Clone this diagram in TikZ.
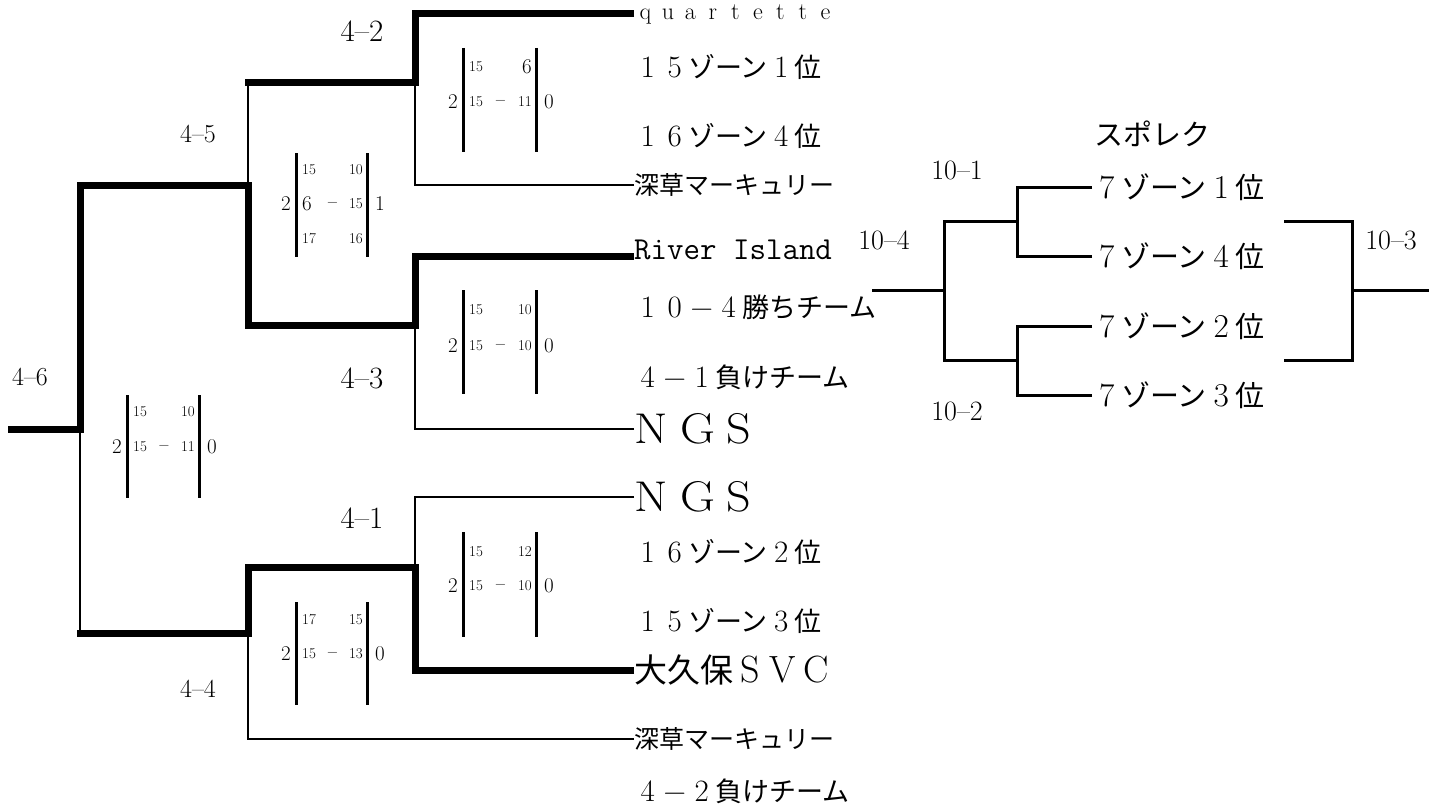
\documentclass[tikz,border=0pt]{standalone}
\usepackage{fontspec}
\newfontfamily\jp{Noto Sans CJK JP}
\newcommand\fw[1]{\makebox[1em]{\rmfamily\scalebox{1.15}{#1}}}
\newcommand\qc[1]{\makebox[22.5pt]{#1}}
\newcommand\nc[1]{\makebox[46pt][l]{\scalebox{1.12}[1]{#1}}}
\tikzset{
  thickln/.style={line width=7pt},
  thinln/.style={line width=2.6pt},
  rthin/.style={line width=3pt},
  barln/.style={line width=3pt},
  big/.style={inner sep=0pt, font=\fontsize{21}{21}\selectfont},
  small/.style={inner sep=0pt, font=\fontsize{15}{15}\selectfont},
  lblA/.style={inner sep=0pt, font=\fontsize{31}{31}\selectfont},
  lblB/.style={inner sep=0pt, font=\fontsize{26}{26}\selectfont},
  lblC/.style={inner sep=0pt, font=\fontsize{28}{28}\selectfont},
  team/.style={anchor=west, inner sep=0pt},
  jpA/.style={team, font=\fontsize{27}{27}\selectfont\jp},
  jpB/.style={team, font=\fontsize{25}{25}\selectfont\jp},
  jpC/.style={team, font=\fontsize{33}{33}\selectfont\jp},
  jpD/.style={team, font=\fontsize{29}{29}\selectfont\jp},
  bigS/.style={team, font=\fontsize{43}{43}\selectfont},
}
% name, xl, xr, ytop, ybot, ymid, left score, right score
\newcommand\scoreframe[8]{%
  \draw[barln] (#2,#4) coordinate (#1a) -- (#2,#5) coordinate (#1b);
  \draw[barln] (#3,#4) coordinate (#1c) -- (#3,#5) coordinate (#1d);
  \node[big,anchor=east] (#1L) at (#2-5,#6) {#7};
  \node[big,anchor=west] (#1R) at (#3+8,#6) {#8};
}
% name, xl, xr, y, left, right
\newcommand\scorerow[6]{%
  \node[small,anchor=west] (#1l) at (#2+6,#4) {#5};
  \node[small,anchor=east] (#1r) at (#3-4,#4) {#6};
}
\newcommand\scoremid[6]{%
  \scorerow{#1}{#2}{#3}{#4}{#5}{#6}%
  \node[small] (#1m) at ({(#2+#3)/2+1},#4) {−};
}
\begin{document}
\begin{tikzpicture}[x=1pt,y=-1pt]
\useasboundingbox (0,0) rectangle (1436,808);

% ---------- team names ----------
\node[team, font=\fontsize{24}{24}\selectfont] (t1) at (634,14) {\qc{q}\qc{u}\qc{a}\qc{r}\qc{t}\qc{e}\qc{t}\qc{t}\qc{e}};
\node[jpA] (t2) at (634,67) {\fw{1}\fw{5}ゾーン\fw{1}位};
\node[jpA] (t3) at (634,136) {\fw{1}\fw{6}ゾーン\fw{4}位};
\node[jpB] (t4) at (634,185) {深草マーキュリー};
\node[team, font=\fontsize{32}{32}\selectfont\ttfamily] (t5) at (634,250) {River Island};
\coordinate (p5) at (634,256);
\node[jpA] (t6) at (634,307) {\fw{1}\fw{0}\fw{−}\fw{4}勝ちチーム};
\node[jpA] (t7) at (634,377) {\fw{4}\fw{−}\fw{1}負けチーム};
\node[bigS] (t8) at (634,429) {\nc{N}\nc{G}\nc{S}};
\node[bigS] (t9) at (634,497) {\nc{N}\nc{G}\nc{S}};
\node[jpA] (t10) at (634,552) {\fw{1}\fw{6}ゾーン\fw{2}位};
\node[jpA] (t11) at (634,621) {\fw{1}\fw{5}ゾーン\fw{3}位};
\node[jpC] (t12) at (634,670) {大久保\fw{S}\fw{V}\fw{C}};
\node[jpB] (t13) at (634,739) {深草マーキュリー};
\node[jpA] (t14) at (634,791) {\fw{4}\fw{−}\fw{2}負けチーム};

% ---------- junctions ----------
\coordinate (root) at (8,429);
\coordinate (j46) at (80,429);
\coordinate (j46b) at (80,633);
\coordinate (j45) at (248,185);
\coordinate (j45t) at (248,83);
\coordinate (j44) at (248,633);
\coordinate (j42) at (415,83);
\coordinate (j43) at (415,325);
\coordinate (j41) at (415,567);

% thin (losing) lines
\draw[thinln] (t4.west) -| (j42);
\draw[thinln] (j45t) -- (j45);
\draw[thinln] (t8.west) -| (j43);
\draw[thinln] (j46) -- (j46b);
\draw[thinln] (t9.west) -| (j41);
\draw[thinln] (t13.west) -| (j44);
% thick (winning) lines
\draw[thickln] (p5) -| (j43) -| (j45) -| (j46) -- (root);
\draw[thickln] (t1.west) -| (j42) -- ([xshift=-3.5pt]j45t);
\draw[thickln] (t12.west) -| (j41) -| (j44) -- ([xshift=-3.5pt]j46b);

% ---------- match labels ----------
\node[lblB] (l46) at (30,377) {4–6};
\node[lblB] (l45) at (198,134) {4–5};
\node[lblB] (l44) at (198,689) {4–4};
\node[lblA] (l42) at (362,31) {4–2};
\node[lblA] (l43) at (362,378) {4–3};
\node[lblA] (l41) at (362,518) {4–1};

% ---------- score boxes ----------
% 4-2
\scoreframe{b42}{463}{536}{48}{152}{102}{2}{0}
\scorerow{b42t}{463}{536}{67}{15}{\fontsize{21}{21}\selectfont 6}
\scoremid{b42m}{463}{536}{102}{15}{11}
% 4-5
\scoreframe{b45}{296}{367}{153}{257}{204}{2}{1}
\scorerow{b45t}{296}{367}{170}{15}{10}
\scoremid{b45m}{296}{367}{204}{\fontsize{21}{21}\selectfont 6}{15}
\scorerow{b45b}{296}{367}{239}{17}{16}
% 4-3
\scoreframe{b43}{463}{536}{290}{394}{346}{2}{0}
\scorerow{b43t}{463}{536}{310}{15}{10}
\scoremid{b43m}{463}{536}{346}{15}{10}
% 4-6
\scoreframe{b46}{127}{199}{395}{498}{447}{2}{0}
\scorerow{b46t}{127}{199}{412}{15}{10}
\scoremid{b46m}{127}{199}{447}{15}{11}
% 4-1
\scoreframe{b41}{463}{536}{532}{637}{586}{2}{0}
\scorerow{b41t}{463}{536}{552}{15}{12}
\scoremid{b41m}{463}{536}{586}{15}{10}
% 4-4
\scoreframe{b44}{296}{367}{602}{705}{654}{2}{0}
\scorerow{b44t}{296}{367}{620}{17}{15}
\scoremid{b44m}{296}{367}{654}{15}{13}

% ---------- right bracket ----------
\node[jpD] (sp) at (1094,134) {スポレク};
\node[jpD] (r1) at (1092,187) {\fw{7}ゾーン\fw{1}位};
\node[jpD] (r4) at (1092,256) {\fw{7}ゾーン\fw{4}位};
\node[jpD] (r2) at (1092,326) {\fw{7}ゾーン\fw{2}位};
\node[jpD] (r3) at (1092,395) {\fw{7}ゾーン\fw{3}位};

\coordinate (k1) at (1017,221);
\coordinate (k2) at (1017,360);
\coordinate (k4) at (944,290);
\coordinate (k4L) at (872,290);
\coordinate (m1) at (1284,221);
\coordinate (m2) at (1284,360);
\coordinate (k3) at (1352,290);
\coordinate (k3R) at (1429,290);

\draw[rthin] (r1.west) -| (k1);
\draw[rthin] (r4.west) -| (k1);
\draw[rthin] (r2.west) -| (k2);
\draw[rthin] (r3.west) -| (k2);
\draw[rthin] (k1) -| (k4);
\draw[rthin] (k2) -| (k4);
\draw[rthin] (k4) -- (k4L);
\draw[rthin] (m1) -| (k3);
\draw[rthin] (m2) -| (k3);
\draw[rthin] (k3) -- (k3R);

\node[lblC] (l101) at (957,170) {10–1};
\node[lblC] (l104) at (884,240) {10–4};
\node[lblC] (l102) at (957,411) {10–2};
\node[lblC] (l103) at (1391,240) {10–3};
\end{tikzpicture}
\end{document}
